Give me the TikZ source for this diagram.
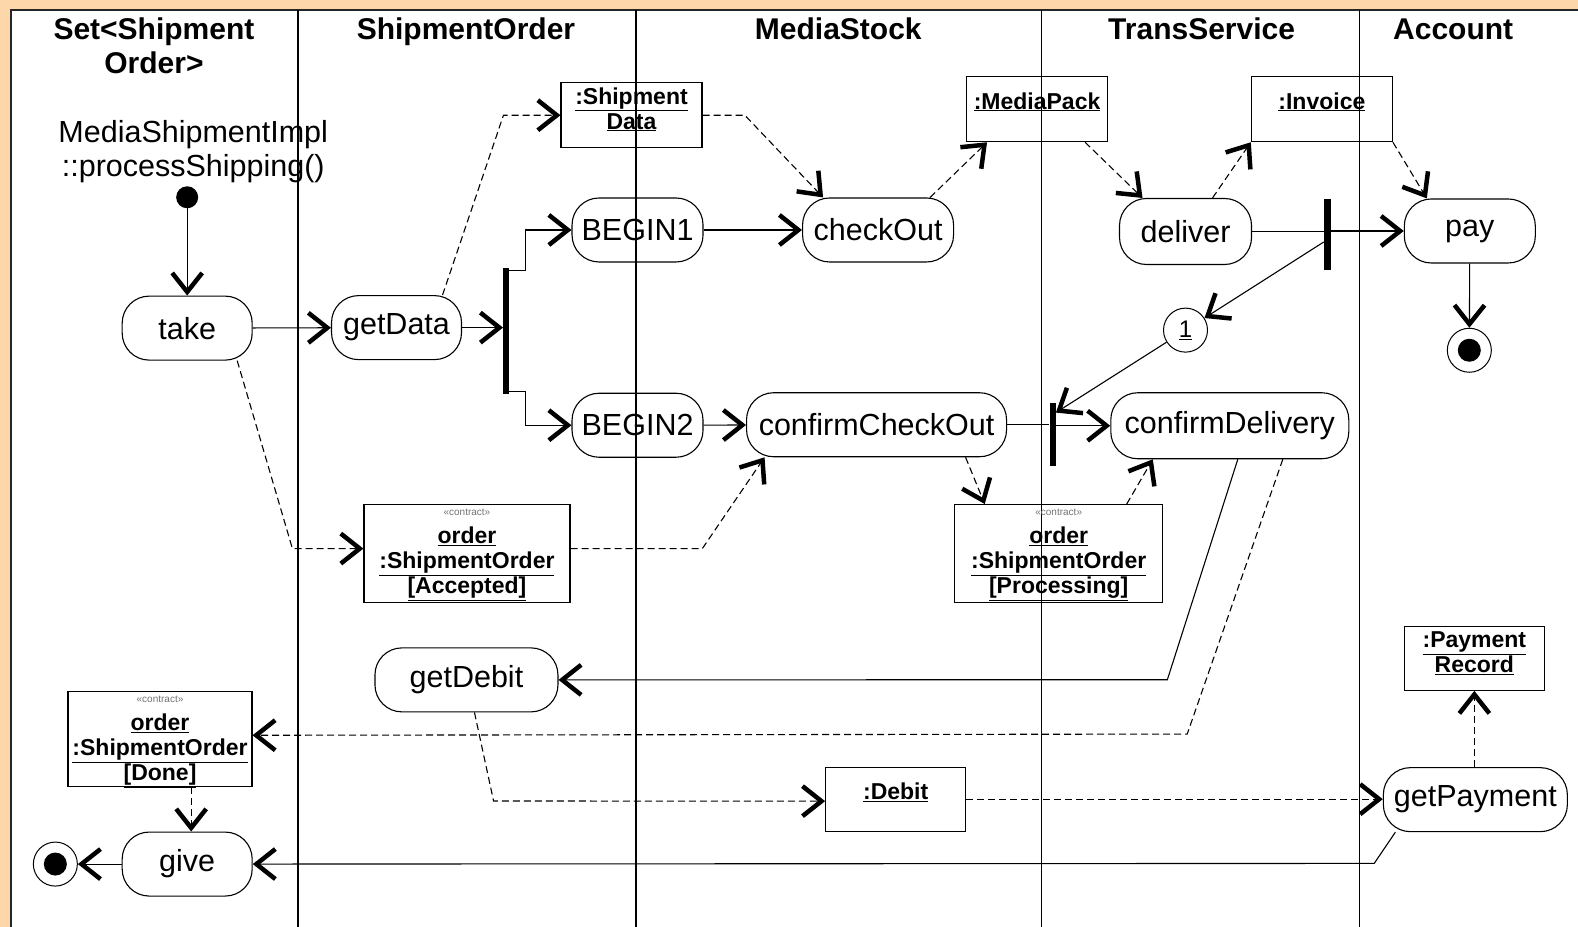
\documentclass[tikz,border=0pt]{standalone}
\usepackage{fontspec}
\setmainfont{Liberation Sans}
\usetikzlibrary{arrows.meta}
\definecolor{paper}{RGB}{253,214,170}
\begin{document}
\begin{tikzpicture}[x=1.0064pt,y=-1.0065pt,
  lane/.style={line width=1.3pt},
  act/.style={draw, line width=1.1pt, rounded corners=27pt, minimum height=64pt,
    inner sep=0pt, font=\fontsize{30.5}{34}\selectfont},
  objbox/.style={draw, line width=1.1pt, inner sep=0pt},
  objtxt/.style={font=\bfseries\fontsize{23}{25}\selectfont, align=center, inner sep=0pt},
  bar/.style={fill, inner sep=0pt, minimum width=6pt},
  startdot/.style={circle, fill, minimum size=22pt, inner sep=0pt},
  enddot/.style={circle, draw, line width=1pt, minimum size=44pt, inner sep=0pt,
    path picture={\fill (path picture bounding box.center) circle (11.5pt);}},
  barb/.tip={Straight Barb[length=19pt,width=30pt,line width=4.5pt 0 1]},
  flow/.style={line width=1.1pt, -barb},
  plain/.style={line width=1.1pt},
  objflow/.style={flow, dash pattern=on 7pt off 4pt},
  head/.style={font=\bfseries\fontsize{30}{34}\selectfont, align=center, inner sep=0pt, anchor=base}]

% page, frame and swimlanes
\fill[paper] (0,0) rectangle (1568,921);
\useasboundingbox (0,0) rectangle (1568,921);
\fill[white] (11,10) rectangle (1568,921);
\draw[line width=2.2pt, black!85] (11,921) -- (11,10) -- (1568,10);
\foreach \x in {296,632,1035,1351} \draw[lane] (\x,10) -- (\x,921);

% lane titles
\node[head] (h1) at (153,73) {Set<Shipment\\Order>};
\node[head] (h2) at (463,39) {ShipmentOrder};
\node[head] (h3) at (833,39) {MediaStock};
\node[head] (h4) at (1194,39) {TransService};
\node[head] (h5) at (1444,39) {Account};

\node[font=\fontsize{30.5}{34}\selectfont, align=center, inner sep=0pt] (op)
  at (192,151) {MediaShipmentImpl\\::processShipping()};

% activities
\node[startdot] (init) at (186,196) {};
\node[act, minimum width=130pt] (take) at (186,326) {take};
\node[act, minimum width=130pt] (getData) at (394,325.5) {getData};
\node[bar, minimum height=126pt] (bar1) at (503,329) {};
\node[act, minimum width=131pt] (begin1) at (633.5,228.5) {BEGIN1};
\node[act, minimum width=131pt] (begin2) at (633.5,422.5) {BEGIN2};
\node[act, minimum width=151pt] (checkOut) at (872.5,228.5) {checkOut};
\node[act, minimum width=132pt, minimum height=66pt] (deliver) at (1178,230) {deliver};
\node[bar, minimum width=7pt, minimum height=71pt] (bar2) at (1319,232.5) {};
\node[act, minimum width=131pt] (pay) at (1460.5,229.5) {pay};
\node[enddot] (payend) at (1460,348) {};
\node[circle, draw, line width=1pt, minimum size=44pt, inner sep=0pt,
  font=\fontsize{24}{26}\selectfont] (one) at (1178,328) {\underline{1}};
\node[act, minimum width=260pt] (cco) at (871,422) {confirmCheckOut};
\node[bar, minimum height=63pt] (bar3) at (1046,431.5) {};
\node[act, minimum width=238pt, minimum height=66pt] (cd) at (1222,423) {confirmDelivery};
\node[act, minimum width=183pt] (getDebit) at (463.5,675.5) {getDebit};
\node[act, minimum width=184pt] (gp) at (1466,794.5) {getPayment};
\node[act, minimum width=130pt] (give) at (186,858.5) {give};
\node[enddot] (giveend) at (55,858.5) {};

% object flow states
\node[objbox, minimum width=141pt, minimum height=65pt,
  label={[objtxt,anchor=north,yshift=-5pt]north:{\underline{:Shipment}\\\underline{Data}}}]
  (sd) at (627.5,114.5) {};
\node[objbox, minimum width=141pt, minimum height=65pt,
  label={[objtxt,anchor=north,yshift=-16pt]north:{\underline{:MediaPack}}}]
  (mp) at (1030.5,108.5) {};
\node[objbox, minimum width=141pt, minimum height=65pt,
  label={[objtxt,anchor=north,yshift=-16pt]north:{\underline{:Invoice}}}]
  (inv) at (1313.5,108.5) {};
\node[objbox, minimum width=206pt, minimum height=98pt,
  label={[objtxt,anchor=north,yshift=-5pt]north:{{\mdseries\fontsize{10}{12}\selectfont\color{black!55}«contract»}\\[3pt]\underline{order}\\\underline{:ShipmentOrder}\\\underline{[Accepted]}}}]
  (oa) at (464,550) {};
\node[objbox, minimum width=208pt, minimum height=98pt,
  label={[objtxt,anchor=north,yshift=-5pt]north:{{\mdseries\fontsize{10}{12}\selectfont\color{black!55}«contract»}\\[3pt]\underline{order}\\\underline{:ShipmentOrder}\\\underline{[Processing]}}}]
  (opr) at (1052,550) {};
\node[objbox, minimum width=184pt, minimum height=95pt,
  label={[objtxt,anchor=north,yshift=-5pt]north:{{\mdseries\fontsize{10}{12}\selectfont\color{black!55}«contract»}\\[3pt]\underline{order}\\\underline{:ShipmentOrder}\\\underline{[Done]}}}]
  (od) at (159,734.5) {};
\node[objbox, minimum width=140pt, minimum height=64pt,
  label={[objtxt,anchor=north,yshift=-6pt]north:{\underline{:Payment}\\\underline{Record}}}]
  (pr) at (1465,654) {};
\node[objbox, minimum width=140pt, minimum height=64pt,
  label={[objtxt,anchor=north,yshift=-16pt]north:{\underline{:Debit}}}]
  (deb) at (890,794) {};

% control flow
\draw[flow] (init) -- (take);
\draw[flow] (take) -- (getData);
\draw[flow] (getData) -- (getData -| bar1.west);
\draw[flow] ([yshift=-3pt]bar1.north east) -- ++(16,0) |- (begin1.west);
\draw[flow] ([yshift=3pt]bar1.south east) -- ++(16,0) |- (begin2.west);
\draw[flow] (begin1) -- (checkOut);
\draw[plain] (deliver.east) -- (deliver.east -| bar2.west);
\draw[flow] (bar2.east |- pay.west) -- (pay.west);
\draw[flow] (pay) -- (payend);
\draw[flow] ([yshift=-8pt]bar2.west) -- (one);
\draw[flow] (one) -- ([yshift=-10pt]bar3.north east);
\draw[flow] (begin2) -- (cco);
\draw[plain] (cco.east) -- (cco.east -| bar3.west);
\draw[flow] (bar3.east |- cd.west) -- (cd.west);
\draw[flow] ([xshift=8pt]cd.south) -- ++(-70,219) -- (getDebit.east);
\draw[flow] ([xshift=-80pt]gp.south) -- ++(-21,31) -- (give.east);
\draw[flow] (give) -- (giveend);

% object flow
\draw[objflow] ([xshift=46pt]getData.north) -- ([xshift=-57pt]sd.west) -- (sd.west);
\draw[objflow] (sd.east) -- ++(42,0) -- ([xshift=-55pt]checkOut.north);
\draw[objflow] ([xshift=52pt]checkOut.north) -- ([xshift=-50pt]mp.south);
\draw[objflow] ([xshift=48pt]mp.south) -- ([xshift=-43pt]deliver.north);
\draw[objflow] ([xshift=27pt]deliver.north) -- (inv.south west);
\draw[objflow] (inv.south east) -- ([xshift=-43pt]pay.north);
\draw[objflow] ([xshift=50pt]take.south) -- ([xshift=-71pt,yshift=5pt]oa.west) -- ([yshift=5pt]oa.west);
\draw[objflow] ([yshift=5pt]oa.east) -- ++(131,0) -- ([xshift=-112pt]cco.south);
\draw[objflow] ([xshift=89pt]cco.south) -- ([xshift=-74pt]opr.north);
\draw[objflow] ([xshift=68pt]opr.north) -- ([xshift=-77pt]cd.south);
\draw[objflow] ([xshift=53pt]cd.south) -- ++(-95,273) -- ([yshift=4pt]od.east);
\draw[objflow] ([xshift=8pt]getDebit.south) -- ++(19,88) -- ([yshift=-2pt]deb.west);
\draw[objflow] (deb.east) -- (deb.east -| gp.west);
\draw[objflow] (pr.south |- gp.north) -- (pr.south);
\draw[objflow] ([xshift=4pt]give.north |- od.south) -- ([xshift=4pt]give.north);
\end{tikzpicture}
\end{document}
